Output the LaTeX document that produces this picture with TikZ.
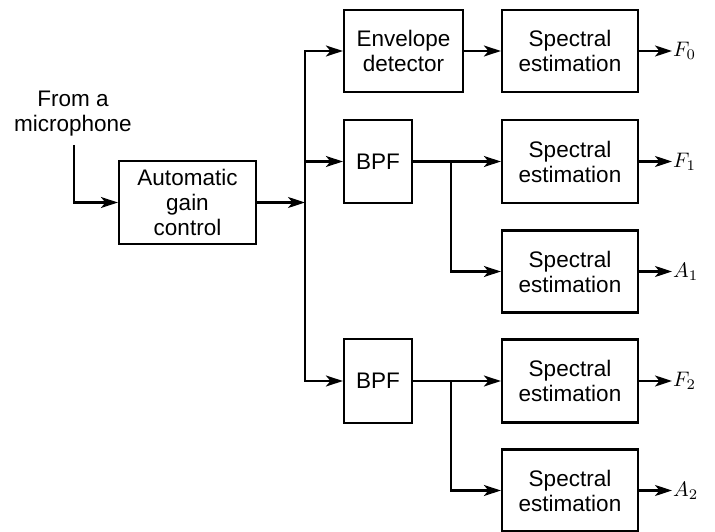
\documentclass[tikz,border=0pt]{standalone}
\usepackage{graphicx}
\usepackage{fontspec}
\setmainfont{Liberation Sans}
\usetikzlibrary{arrows.meta}
\newcommand{\biglabel}[1]{\scalebox{2.1}{$#1$}}
\begin{document}
\begin{tikzpicture}[x=1pt,y=-1pt,
  blk/.style={draw,line width=2.2pt,align=center,inner sep=0pt,
    font=\fontsize{22.5}{25}\selectfont},
  wire/.style={line width=2.2pt},
  flow/.style={line width=2.2pt,-{Stealth[length=17pt,width=11pt,inset=4.5pt]}},
  outlabel/.style={anchor=west,inner sep=1pt}]
\useasboundingbox (0,0) rectangle (715,532);

% source label
\node[align=center,font=\fontsize{22.5}{25}\selectfont] (src) at (73,114) {From a\\microphone};
\coordinate (srcend) at (74,145);

% blocks
\node[blk,minimum width=137pt,minimum height=83pt] (agc) at (187.5,202.5) {Automatic\\gain\\control};
\node[blk,minimum width=119pt,minimum height=82pt] (env) at (403.5,51) {Envelope\\detector};
\node[blk,minimum width=136pt,minimum height=82pt] (se0) at (570,51) {Spectral\\estimation};
\node[blk,minimum width=68pt,minimum height=83pt] (bpfa) at (378,161.5) {BPF};
\node[blk,minimum width=136pt,minimum height=83pt] (se1) at (570,161.5) {Spectral\\estimation};
\node[blk,minimum width=136pt,minimum height=82pt] (se2) at (570,271.5) {Spectral\\estimation};
\node[blk,minimum width=68pt,minimum height=84pt] (bpfb) at (378,381) {BPF};
\node[blk,minimum width=136pt,minimum height=83pt] (se3) at (570,381) {Spectral\\estimation};
\node[blk,minimum width=136pt,minimum height=82pt] (se4) at (570,490.5) {Spectral\\estimation};

% junction points
\coordinate (trunk) at (305,202.5);
\coordinate (ja) at (451,161.5);
\coordinate (jb) at (451,381);

% input path
\draw[flow] (srcend) |- (agc.west);
\draw[flow] (agc.east) -- (trunk);

% distribution trunk
\draw[flow] (trunk) |- (env.west);
\draw[flow] (trunk) |- (bpfa.west);
\draw[flow] (trunk) |- (bpfb.west);

% envelope chain
\draw[flow] (env.east) -- (se0.west);

% first band
\draw[wire] (bpfa.east) -- (ja);
\draw[flow] (ja) -- (se1.west);
\draw[flow] (ja) |- (se2.west);

% second band
\draw[wire] (bpfb.east) -- (jb);
\draw[flow] (jb) -- (se3.west);
\draw[flow] (jb) |- (se4.west);

% outputs
\coordinate (o0) at (672,51);
\coordinate (o1) at (672,161.5);
\coordinate (o2) at (672,271.5);
\coordinate (o3) at (672,381);
\coordinate (o4) at (672,490.5);
\draw[flow] (se0.east) -- (o0);
\draw[flow] (se1.east) -- (o1);
\draw[flow] (se2.east) -- (o2);
\draw[flow] (se3.east) -- (o3);
\draw[flow] (se4.east) -- (o4);
\node[outlabel] (l0) at (o0) {\biglabel{F_0}};
\node[outlabel] (l1) at (o1) {\biglabel{F_1}};
\node[outlabel] (l2) at (o2) {\biglabel{A_1}};
\node[outlabel] (l3) at (o3) {\biglabel{F_2}};
\node[outlabel] (l4) at (o4) {\biglabel{A_2}};
\end{tikzpicture}
\end{document}
